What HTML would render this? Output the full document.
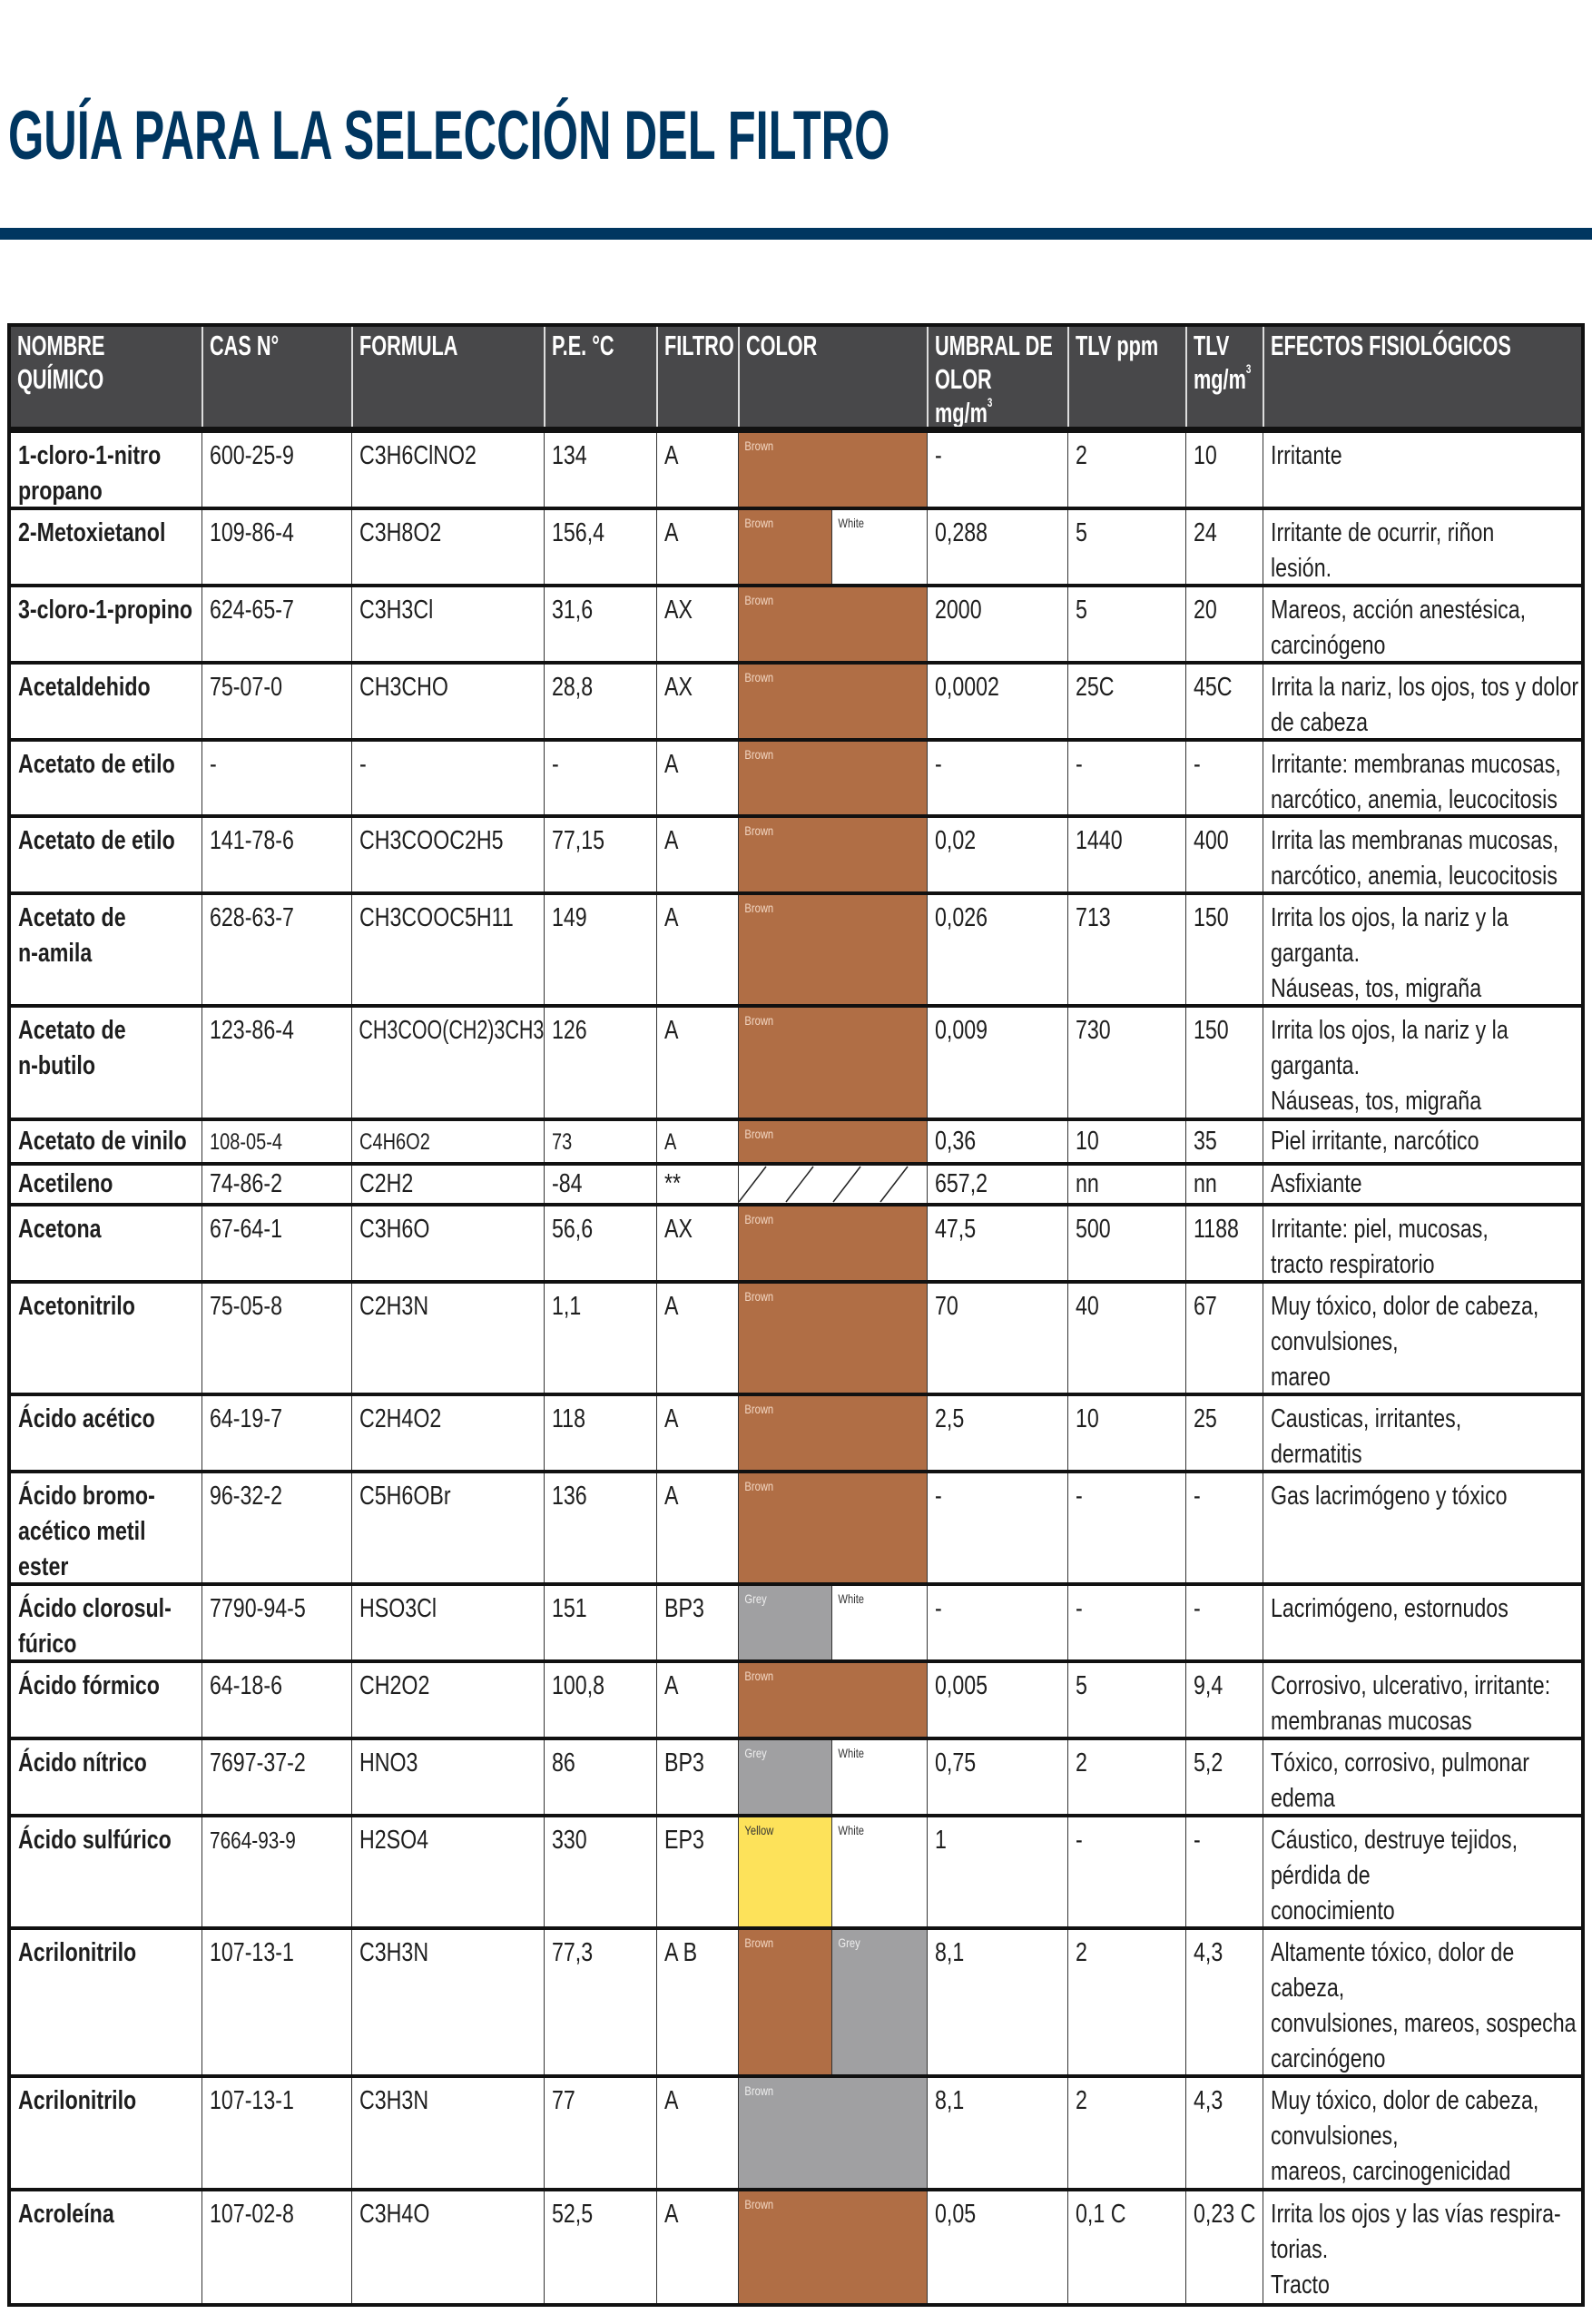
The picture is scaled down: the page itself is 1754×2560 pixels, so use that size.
<!DOCTYPE html>
<html><head><meta charset="utf-8">
<style>
html,body{margin:0;padding:0;background:#fff;}
body{width:1754px;height:2560px;position:relative;overflow:hidden;font-family:"Liberation Sans Narrow","Liberation Sans",sans-serif;color:#1e1e1e;}
#title{position:absolute;left:9px;top:106px;font-size:76px;font-weight:bold;color:#003660;white-space:nowrap;transform:scaleX(0.665);transform-origin:left top;}
#rule{position:absolute;left:0;top:251px;width:1754px;height:13px;background:#003660;}
#tb{position:absolute;left:8px;top:356px;width:1738px;border:4px solid #111;border-bottom:none;box-sizing:border-box;}
.r{display:flex;box-sizing:border-box;border-bottom:4px solid #111;overflow:hidden;}
.d{box-sizing:border-box;border-left:1px solid #333;position:relative;overflow:hidden;flex:none;height:100%;}
.d:first-child{border-left:none;}
.d:nth-child(1){width:210px}.d:nth-child(2){width:165px}.d:nth-child(3){width:212px}.d:nth-child(4){width:124px}.d:nth-child(5){width:90px}
.d:nth-child(6){width:208px}.d:nth-child(7){width:155px}.d:nth-child(8){width:130px}.d:nth-child(9){width:85px}.d:nth-child(10){width:351px}
.t{transform:scaleX(0.8);transform-origin:left top;width:125%;padding:6px 0 0 10px;font-size:29px;line-height:39px;white-space:nowrap;}
.b{font-weight:bold;}
.h{background:#48484a;color:#fff;border-bottom:7px solid #111;}
.h .d{border-left:2px solid #ddd;}
.h .d:first-child{border-left:none;}
.h .t{font-weight:bold;font-size:31px;line-height:37px;transform:scaleX(0.7);width:143%;padding-top:2px;}
.c{position:absolute;top:0;bottom:0;}
.lab{font-size:14px;padding:6px 0 0 8px;transform:scaleX(0.8);transform-origin:left top;white-space:nowrap;}
.br{background:#b06e45;color:#f2d6c2;}
.gr{background:#a0a0a2;color:#eee;}
.ye{background:#fde25a;color:#333;}
.wh{background:#fff;color:#333;}
sup{font-size:14px;vertical-align:top;line-height:14px;}
</style></head><body>
<div id="title">GUÍA PARA LA SELECCIÓN DEL FILTRO</div>
<div id="rule"></div>
<div id="tb">
<div class="r h" style="height:117px"><div class="d"><div class="t">NOMBRE<br>QUÍMICO</div></div><div class="d"><div class="t">CAS N°</div></div><div class="d"><div class="t">FORMULA</div></div><div class="d"><div class="t">P.E. °C</div></div><div class="d"><div class="t">FILTRO</div></div><div class="d"><div class="t">COLOR</div></div><div class="d"><div class="t">UMBRAL DE<br>OLOR<br>mg/m<sup>3</sup></div></div><div class="d"><div class="t">TLV ppm</div></div><div class="d"><div class="t">TLV<br>mg/m<sup>3</sup></div></div><div class="d"><div class="t">EFECTOS FISIOLÓGICOS</div></div></div>

<div class="r" style="height:85px"><div class="d"><div class="t b">1-cloro-1-nitro<br>propano</div></div><div class="d"><div class="t">600-25-9</div></div><div class="d"><div class="t">C3H6ClNO2</div></div><div class="d"><div class="t">134</div></div><div class="d"><div class="t">A</div></div><div class="d"><div class="c br" style="left:0;right:0"><div class="lab">Brown</div></div></div><div class="d"><div class="t">-</div></div><div class="d"><div class="t">2</div></div><div class="d"><div class="t">10</div></div><div class="d"><div class="t">Irritante</div></div></div>

<div class="r" style="height:85px"><div class="d"><div class="t b">2-Metoxietanol</div></div><div class="d"><div class="t">109-86-4</div></div><div class="d"><div class="t">C3H8O2</div></div><div class="d"><div class="t">156,4</div></div><div class="d"><div class="t">A</div></div><div class="d"><div class="c br" style="left:0;width:102px"><div class="lab">Brown</div></div><div class="c wh" style="left:102px;right:0;border-left:1px solid #333"><div class="lab">White</div></div></div><div class="d"><div class="t">0,288</div></div><div class="d"><div class="t">5</div></div><div class="d"><div class="t">24</div></div><div class="d"><div class="t">Irritante de ocurrir, riñon<br>lesión.</div></div></div>

<div class="r" style="height:85px"><div class="d"><div class="t b">3-cloro-1-propino</div></div><div class="d"><div class="t">624-65-7</div></div><div class="d"><div class="t">C3H3Cl</div></div><div class="d"><div class="t">31,6</div></div><div class="d"><div class="t">AX</div></div><div class="d"><div class="c br" style="left:0;right:0"><div class="lab">Brown</div></div></div><div class="d"><div class="t">2000</div></div><div class="d"><div class="t">5</div></div><div class="d"><div class="t">20</div></div><div class="d"><div class="t">Mareos, acción anestésica,<br>carcinógeno</div></div></div>

<div class="r" style="height:85px"><div class="d"><div class="t b">Acetaldehido</div></div><div class="d"><div class="t">75-07-0</div></div><div class="d"><div class="t">CH3CHO</div></div><div class="d"><div class="t">28,8</div></div><div class="d"><div class="t">AX</div></div><div class="d"><div class="c br" style="left:0;right:0"><div class="lab">Brown</div></div></div><div class="d"><div class="t">0,0002</div></div><div class="d"><div class="t">25C</div></div><div class="d"><div class="t">45C</div></div><div class="d"><div class="t">Irrita la nariz, los ojos, tos y dolor<br>de cabeza</div></div></div>

<div class="r" style="height:84px"><div class="d"><div class="t b">Acetato de etilo</div></div><div class="d"><div class="t">-</div></div><div class="d"><div class="t">-</div></div><div class="d"><div class="t">-</div></div><div class="d"><div class="t">A</div></div><div class="d"><div class="c br" style="left:0;right:0"><div class="lab">Brown</div></div></div><div class="d"><div class="t">-</div></div><div class="d"><div class="t">-</div></div><div class="d"><div class="t">-</div></div><div class="d"><div class="t">Irritante: membranas mucosas,<br>narcótico, anemia, leucocitosis</div></div></div>

<div class="r" style="height:85px"><div class="d"><div class="t b">Acetato de etilo</div></div><div class="d"><div class="t">141-78-6</div></div><div class="d"><div class="t">CH3COOC2H5</div></div><div class="d"><div class="t">77,15</div></div><div class="d"><div class="t">A</div></div><div class="d"><div class="c br" style="left:0;right:0"><div class="lab">Brown</div></div></div><div class="d"><div class="t">0,02</div></div><div class="d"><div class="t">1440</div></div><div class="d"><div class="t">400</div></div><div class="d"><div class="t">Irrita las membranas mucosas,<br>narcótico, anemia, leucocitosis</div></div></div>

<div class="r" style="height:124px"><div class="d"><div class="t b">Acetato de<br>n-amila</div></div><div class="d"><div class="t">628-63-7</div></div><div class="d"><div class="t">CH3COOC5H11</div></div><div class="d"><div class="t">149</div></div><div class="d"><div class="t">A</div></div><div class="d"><div class="c br" style="left:0;right:0"><div class="lab">Brown</div></div></div><div class="d"><div class="t">0,026</div></div><div class="d"><div class="t">713</div></div><div class="d"><div class="t">150</div></div><div class="d"><div class="t">Irrita los ojos, la nariz y la<br>garganta.<br>Náuseas, tos, migraña</div></div></div>

<div class="r" style="height:125px"><div class="d"><div class="t b">Acetato de<br>n-butilo</div></div><div class="d"><div class="t">123-86-4</div></div><div class="d"><div class="t" style="transform:scaleX(0.74)">CH3COO(CH2)3CH3</div></div><div class="d"><div class="t">126</div></div><div class="d"><div class="t">A</div></div><div class="d"><div class="c br" style="left:0;right:0"><div class="lab">Brown</div></div></div><div class="d"><div class="t">0,009</div></div><div class="d"><div class="t">730</div></div><div class="d"><div class="t">150</div></div><div class="d"><div class="t">Irrita los ojos, la nariz y la<br>garganta.<br>Náuseas, tos, migraña</div></div></div>

<div class="r" style="height:49px"><div class="d"><div class="t b" style="padding-top:3px">Acetato de vinilo</div></div><div class="d"><div class="t" style="padding-top:4px;font-size:25px">108-05-4</div></div><div class="d"><div class="t" style="padding-top:4px;font-size:25px">C4H6O2</div></div><div class="d"><div class="t" style="padding-top:4px;font-size:25px">73</div></div><div class="d"><div class="t" style="padding-top:4px;font-size:25px">A</div></div><div class="d"><div class="c br" style="left:0;right:0"><div class="lab">Brown</div></div></div><div class="d"><div class="t" style="padding-top:3px">0,36</div></div><div class="d"><div class="t" style="padding-top:3px">10</div></div><div class="d"><div class="t" style="padding-top:3px">35</div></div><div class="d"><div class="t" style="padding-top:3px">Piel irritante, narcótico</div></div></div>

<div class="r" style="height:45px"><div class="d"><div class="t b" style="padding-top:1px">Acetileno</div></div><div class="d"><div class="t" style="padding-top:1px">74-86-2</div></div><div class="d"><div class="t" style="padding-top:1px">C2H2</div></div><div class="d"><div class="t" style="padding-top:1px">-84</div></div><div class="d"><div class="t" style="padding-top:1px">**</div></div><div class="d"><svg class="c" style="left:0" width="208" height="41"><g stroke="#222" stroke-width="1.5"><line x1="0" y1="40" x2="30" y2="1"/><line x1="52" y1="40" x2="82" y2="1"/><line x1="104" y1="40" x2="134" y2="1"/><line x1="156" y1="40" x2="186" y2="1"/></g></svg></div><div class="d"><div class="t" style="padding-top:1px">657,2</div></div><div class="d"><div class="t" style="padding-top:1px">nn</div></div><div class="d"><div class="t" style="padding-top:1px">nn</div></div><div class="d"><div class="t" style="padding-top:1px">Asfixiante</div></div></div>

<div class="r" style="height:85px"><div class="d"><div class="t b">Acetona</div></div><div class="d"><div class="t">67-64-1</div></div><div class="d"><div class="t">C3H6O</div></div><div class="d"><div class="t">56,6</div></div><div class="d"><div class="t">AX</div></div><div class="d"><div class="c br" style="left:0;right:0"><div class="lab">Brown</div></div></div><div class="d"><div class="t">47,5</div></div><div class="d"><div class="t">500</div></div><div class="d"><div class="t">1188</div></div><div class="d"><div class="t">Irritante: piel, mucosas,<br>tracto respiratorio</div></div></div>

<div class="r" style="height:124px"><div class="d"><div class="t b">Acetonitrilo</div></div><div class="d"><div class="t">75-05-8</div></div><div class="d"><div class="t">C2H3N</div></div><div class="d"><div class="t">1,1</div></div><div class="d"><div class="t">A</div></div><div class="d"><div class="c br" style="left:0;right:0"><div class="lab">Brown</div></div></div><div class="d"><div class="t">70</div></div><div class="d"><div class="t">40</div></div><div class="d"><div class="t">67</div></div><div class="d"><div class="t">Muy tóxico, dolor de cabeza,<br>convulsiones,<br>mareo</div></div></div>

<div class="r" style="height:85px"><div class="d"><div class="t b">Ácido acético</div></div><div class="d"><div class="t">64-19-7</div></div><div class="d"><div class="t">C2H4O2</div></div><div class="d"><div class="t">118</div></div><div class="d"><div class="t">A</div></div><div class="d"><div class="c br" style="left:0;right:0"><div class="lab">Brown</div></div></div><div class="d"><div class="t">2,5</div></div><div class="d"><div class="t">10</div></div><div class="d"><div class="t">25</div></div><div class="d"><div class="t">Causticas, irritantes,<br>dermatitis</div></div></div>

<div class="r" style="height:124px"><div class="d"><div class="t b">Ácido bromo-<br>acético metil<br>ester</div></div><div class="d"><div class="t">96-32-2</div></div><div class="d"><div class="t">C5H6OBr</div></div><div class="d"><div class="t">136</div></div><div class="d"><div class="t">A</div></div><div class="d"><div class="c br" style="left:0;right:0"><div class="lab">Brown</div></div></div><div class="d"><div class="t">-</div></div><div class="d"><div class="t">-</div></div><div class="d"><div class="t">-</div></div><div class="d"><div class="t">Gas lacrimógeno y tóxico</div></div></div>

<div class="r" style="height:85px"><div class="d"><div class="t b">Ácido clorosul-<br>fúrico</div></div><div class="d"><div class="t">7790-94-5</div></div><div class="d"><div class="t">HSO3Cl</div></div><div class="d"><div class="t">151</div></div><div class="d"><div class="t">BP3</div></div><div class="d"><div class="c gr" style="left:0;width:102px"><div class="lab">Grey</div></div><div class="c wh" style="left:102px;right:0;border-left:1px solid #333"><div class="lab">White</div></div></div><div class="d"><div class="t">-</div></div><div class="d"><div class="t">-</div></div><div class="d"><div class="t">-</div></div><div class="d"><div class="t">Lacrimógeno, estornudos</div></div></div>

<div class="r" style="height:85px"><div class="d"><div class="t b">Ácido fórmico</div></div><div class="d"><div class="t">64-18-6</div></div><div class="d"><div class="t">CH2O2</div></div><div class="d"><div class="t">100,8</div></div><div class="d"><div class="t">A</div></div><div class="d"><div class="c br" style="left:0;right:0"><div class="lab">Brown</div></div></div><div class="d"><div class="t">0,005</div></div><div class="d"><div class="t">5</div></div><div class="d"><div class="t">9,4</div></div><div class="d"><div class="t">Corrosivo, ulcerativo, irritante:<br>membranas mucosas</div></div></div>

<div class="r" style="height:85px"><div class="d"><div class="t b">Ácido nítrico</div></div><div class="d"><div class="t">7697-37-2</div></div><div class="d"><div class="t">HNO3</div></div><div class="d"><div class="t">86</div></div><div class="d"><div class="t">BP3</div></div><div class="d"><div class="c gr" style="left:0;width:102px"><div class="lab">Grey</div></div><div class="c wh" style="left:102px;right:0;border-left:1px solid #333"><div class="lab">White</div></div></div><div class="d"><div class="t">0,75</div></div><div class="d"><div class="t">2</div></div><div class="d"><div class="t">5,2</div></div><div class="d"><div class="t">Tóxico, corrosivo, pulmonar<br>edema</div></div></div>

<div class="r" style="height:124px"><div class="d"><div class="t b">Ácido sulfúrico</div></div><div class="d"><div class="t" style="font-size:26px">7664-93-9</div></div><div class="d"><div class="t">H2SO4</div></div><div class="d"><div class="t">330</div></div><div class="d"><div class="t">EP3</div></div><div class="d"><div class="c ye" style="left:0;width:102px"><div class="lab">Yellow</div></div><div class="c wh" style="left:102px;right:0;border-left:1px solid #333"><div class="lab">White</div></div></div><div class="d"><div class="t">1</div></div><div class="d"><div class="t">-</div></div><div class="d"><div class="t">-</div></div><div class="d"><div class="t">Cáustico, destruye tejidos,<br>pérdida de<br>conocimiento</div></div></div>

<div class="r" style="height:163px"><div class="d"><div class="t b">Acrilonitrilo</div></div><div class="d"><div class="t">107-13-1</div></div><div class="d"><div class="t">C3H3N</div></div><div class="d"><div class="t">77,3</div></div><div class="d"><div class="t">A B</div></div><div class="d"><div class="c br" style="left:0;width:102px"><div class="lab">Brown</div></div><div class="c gr" style="left:102px;right:0;border-left:1px solid #333"><div class="lab">Grey</div></div></div><div class="d"><div class="t">8,1</div></div><div class="d"><div class="t">2</div></div><div class="d"><div class="t">4,3</div></div><div class="d"><div class="t">Altamente tóxico, dolor de<br>cabeza,<br>convulsiones, mareos, sospecha<br>carcinógeno</div></div></div>

<div class="r" style="height:125px"><div class="d"><div class="t b">Acrilonitrilo</div></div><div class="d"><div class="t">107-13-1</div></div><div class="d"><div class="t">C3H3N</div></div><div class="d"><div class="t">77</div></div><div class="d"><div class="t">A</div></div><div class="d"><div class="c gr" style="left:0;right:0"><div class="lab">Brown</div></div></div><div class="d"><div class="t">8,1</div></div><div class="d"><div class="t">2</div></div><div class="d"><div class="t">4,3</div></div><div class="d"><div class="t">Muy tóxico, dolor de cabeza,<br>convulsiones,<br>mareos, carcinogenicidad</div></div></div>

<div class="r" style="height:127px"><div class="d"><div class="t b">Acroleína</div></div><div class="d"><div class="t">107-02-8</div></div><div class="d"><div class="t">C3H4O</div></div><div class="d"><div class="t">52,5</div></div><div class="d"><div class="t">A</div></div><div class="d"><div class="c br" style="left:0;right:0"><div class="lab">Brown</div></div></div><div class="d"><div class="t">0,05</div></div><div class="d"><div class="t">0,1 C</div></div><div class="d"><div class="t">0,23 C</div></div><div class="d"><div class="t">Irrita los ojos y las vías respira-<br>torias.<br>Tracto</div></div></div>
</div>
</body></html>
